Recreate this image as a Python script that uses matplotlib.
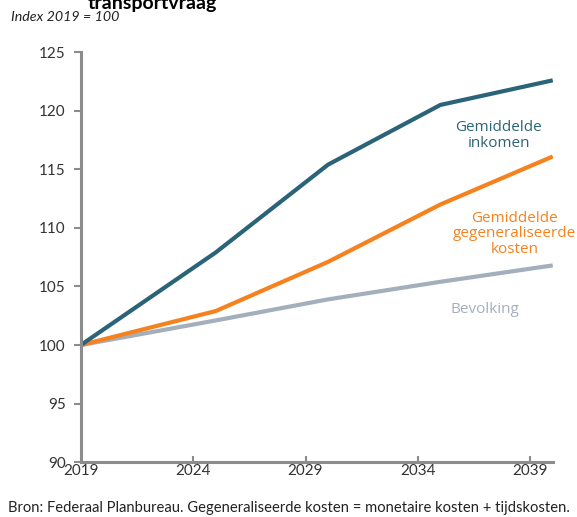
import matplotlib.pyplot as plt

plt.rcParams['font.family'] = ['Lato', 'DejaVu Sans']

# index values, 2019 = 100
years = [2019, 2025, 2030, 2035, 2040]
inkomen = [100, 107.9, 115.4, 120.5, 122.6]
kosten = [100, 102.9, 107.1, 112.0, 116.1]
bevolking = [100, 102.1, 103.9, 105.4, 106.8]

xticks = [2019, 2024, 2029, 2034, 2039]
yticks = [90, 95, 100, 105, 110, 115, 120, 125]

blue = '#2b6479'
orange = '#f5821f'
grey = '#a4afbc'
axis_grey = '#8c8c8c'

fig = plt.figure(figsize=(5.77, 5.17), dpi=100)
ax = fig.add_axes([0.140, 0.106, 0.818, 0.793])

ax.plot(years, bevolking, color=grey, lw=3, solid_capstyle='butt')
ax.plot(years, kosten, color=orange, lw=3, solid_capstyle='butt')
ax.plot(years, inkomen, color=blue, lw=3, solid_capstyle='butt')

ax.set_xlim(2019, 2040)
ax.set_ylim(90, 125)
ax.set_xticks(xticks)
ax.set_yticks(yticks)
ax.tick_params(axis='y', direction='out', length=5, width=1.5, color=axis_grey,
               labelsize=11, labelcolor='#333333', pad=6)
ax.tick_params(axis='x', direction='in', length=4, width=1.5, color=axis_grey,
               labelsize=11, labelcolor='#333333', pad=1)
for s in ['top', 'right']:
    ax.spines[s].set_visible(False)
for s in ['left', 'bottom']:
    ax.spines[s].set_color(axis_grey)
    ax.spines[s].set_linewidth(2.2)

lab = dict(family=['Open Sans', 'DejaVu Sans'], fontsize=11, ha='center',
           va='center', linespacing=1.05)
ax.text(2037.6, 117.9, 'Gemiddelde\ninkomen', color=blue, **lab)
ax.text(2038.3, 109.5, 'Gemiddelde\ngegeneraliseerde\nkosten', color=orange, **lab)
ax.text(2037.0, 103.0, 'Bevolking', color=grey, **lab)

fig.text(88 / 577, 1 - 9 / 517, 'transportvraag', fontsize=14, fontweight='bold',
         ha='left', va='baseline')
fig.text(11 / 577, 1 - 17 / 517, 'Index 2019 = 100', fontsize=10.3, style='italic',
         color='#222222', ha='left', va='center')
fig.text(8 / 577, 1 - 508 / 517,
         'Bron: Federaal Planbureau. Gegeneraliseerde kosten = monetaire kosten + tijdskosten.',
         fontsize=10.65, color='#222222', ha='left', va='center')

fig.savefig('out.png', dpi=100)
